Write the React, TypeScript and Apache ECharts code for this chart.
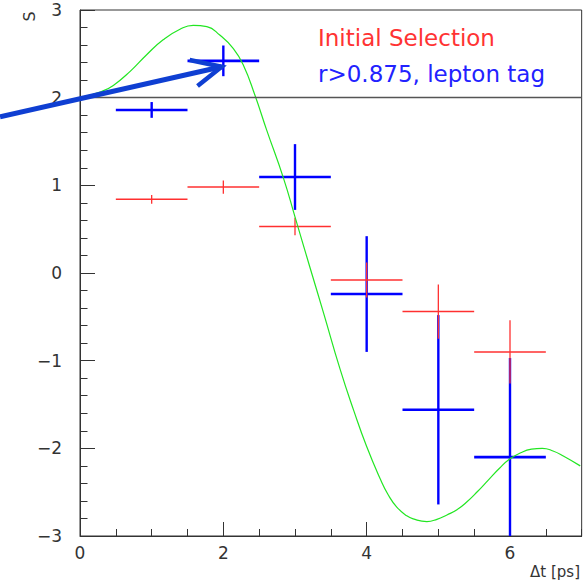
import React, { useEffect, useRef } from 'react';
import * as echarts from 'echarts';

// Bin centres (Δt in ps) and half widths
const BIN_T = [1, 2, 3, 4, 5, 6];
const BIN_HALF = [0.5, 0.5, 0.5, 0.5, 0.5, 0.5];

// "Initial Selection" (red)
const INITIAL_S = [0.84, 0.98, 0.53, -0.08, -0.44, -0.9];
const INITIAL_ERR = [0.05, 0.075, 0.1, 0.2, 0.31, 0.36];

// "r>0.875, lepton tag" (blue)
const LEPTON_S = [1.86, 2.42, 1.095, -0.24, -1.56, -2.1];
const LEPTON_ERR = [0.09, 0.175, 0.375, 0.66, 1.08, 1.13];

// Fitted curve (green)
const FIT_T = [0, 0.3, 0.465, 0.7, 0.93, 1.16, 1.395, 1.58, 1.77, 1.95, 2.14, 2.28, 2.44, 2.605, 2.84, 3.0, 3.21, 3.4, 3.63, 3.82, 4.0, 4.19, 4.3, 4.42, 4.56, 4.65, 4.84, 4.98, 5.12, 5.26, 5.4, 5.55, 5.7, 5.85, 6.0, 6.15, 6.3, 6.45, 6.6, 6.75, 6.98];
const FIT_S = [2.0, 2.07, 2.14, 2.3, 2.49, 2.66, 2.78, 2.825, 2.81, 2.715, 2.56, 2.37, 2.03, 1.63, 1.08, 0.64, 0.06, -0.46, -1.1, -1.57, -1.98, -2.35, -2.53, -2.67, -2.77, -2.805, -2.835, -2.81, -2.76, -2.7, -2.61, -2.49, -2.36, -2.23, -2.12, -2.05, -2.01, -2.0, -2.03, -2.09, -2.2];

// Axis ticks
const X_MIN = 0, X_MAX = 7, X_MAJOR = 2, X_MINOR = 0.5;
const Y_MIN = -3, Y_MAX = 3, Y_MAJOR = 1;
const REF_LINE_S = 2;

// Arrow annotation in data units: tail, tip, barb ends
const ARROW_TAIL = [-1.116, 1.783];
const ARROW_TIP = [1.977, 2.353];
const ARROW_BARB_UP = [1.53, 2.43];
const ARROW_BARB_DOWN = [1.64, 2.133];

const LEGEND_LABELS = ['Initial Selection', 'r>0.875, lepton tag'];

const FONT = 'DejaVu Sans';

function errData(t: number[], s: number[], ex: number[], ey: number[]) {
  return t.map((x, i) => [x, s[i], ex[i], ey[i]]);
}

function errorBarRender(color: string, hWidth: number, vWidth: number) {
  return (params: any, api: any) => {
    const x = api.value(0);
    const y = api.value(1);
    const ex = api.value(2);
    const ey = api.value(3);
    const l = api.coord([x - ex, y]);
    const r = api.coord([x + ex, y]);
    const t = api.coord([x, y + ey]);
    const b = api.coord([x, y - ey]);
    return {
      type: 'group',
      children: [
        { type: 'line', shape: { x1: l[0], y1: l[1], x2: r[0], y2: r[1] }, style: { stroke: color, lineWidth: hWidth } },
        { type: 'line', shape: { x1: t[0], y1: t[1], x2: b[0], y2: b[1] }, style: { stroke: color, lineWidth: vWidth } },
      ],
    };
  };
}

export default function App() {
  const ref = useRef<HTMLDivElement>(null);
  useEffect(() => {
    document.body.style.margin = '0';
    const chart = echarts.init(ref.current!, undefined, { renderer: 'svg' });
    const axisColor = '#333';
    const option: any = {
      animation: false,
      backgroundColor: '#fff',
      grid: { left: 80, right: 4.33, top: 10, bottom: 45, show: true, borderColor: axisColor, borderWidth: 1, backgroundColor: 'transparent' },
      xAxis: [
        {
          type: 'value', min: X_MIN, max: X_MAX, interval: X_MAJOR, position: 'bottom',
          axisLine: { show: true, onZero: false, lineStyle: { color: axisColor, width: 1 } },
          axisTick: { show: true, inside: true, length: 14, lineStyle: { color: axisColor } },
          axisLabel: { show: true, showMaxLabel: false, margin: 8, color: '#333', fontFamily: FONT, fontSize: 17 },
          splitLine: { show: false },
        },
        {
          type: 'value', min: X_MIN, max: X_MAX, interval: X_MINOR, position: 'bottom',
          axisLine: { show: false, onZero: false },
          axisTick: { show: true, inside: true, length: 7, lineStyle: { color: axisColor } },
          axisLabel: { show: false },
          splitLine: { show: false },
        },
      ],
      yAxis: [
        {
          type: 'value', min: Y_MIN, max: Y_MAX, interval: Y_MAJOR,
          axisLine: { show: true, onZero: false, lineStyle: { color: axisColor, width: 1 } },
          axisTick: { show: true, inside: true, length: 15, lineStyle: { color: axisColor } },
          minorTick: { show: true, splitNumber: 5, length: 7.5, lineStyle: { color: axisColor } },
          axisLabel: { margin: 18, color: '#333', fontFamily: FONT, fontSize: 17, formatter: (v: number) => String(v).replace('-', '\u2212') },
          splitLine: { show: false },
          minorSplitLine: { show: false },
        },
      ],
      series: [
        {
          type: 'custom', name: LEGEND_LABELS[1], clip: true, xAxisIndex: 0, yAxisIndex: 0,
          data: errData(BIN_T, LEPTON_S, BIN_HALF, LEPTON_ERR),
          encode: { x: 0, y: 1 },
          renderItem: errorBarRender('#0000ff', 2.6, 2.4),
          markLine: {
            silent: true, symbol: 'none', label: { show: false },
            lineStyle: { color: '#555', width: 1.3, type: 'solid' },
            data: [{ yAxis: REF_LINE_S }],
          },
        },
        {
          type: 'custom', name: LEGEND_LABELS[0], clip: true, xAxisIndex: 0, yAxisIndex: 0,
          data: errData(BIN_T, INITIAL_S, BIN_HALF, INITIAL_ERR),
          encode: { x: 0, y: 1 },
          renderItem: errorBarRender('#ff3030', 1.5, 1.3),
        },
        {
          type: 'line', xAxisIndex: 0, yAxisIndex: 0, showSymbol: false, symbol: 'none', smooth: 0.5,
          data: FIT_T.map((t, i) => [t, FIT_S[i]]),
          lineStyle: { color: '#22e622', width: 1.2 },
        },
      ],
    };
    chart.setOption(option);

    const px = (v: number[]) => chart.convertToPixel({ gridIndex: 0 }, v) as number[];
    const tail = px(ARROW_TAIL);
    const tip = px(ARROW_TIP);
    const up = px(ARROW_BARB_UP);
    const down = px(ARROW_BARB_DOWN);
    const arrowColor = '#0f3fd2';

    chart.setOption({
      graphic: [
        { type: 'line', shape: { x1: tail[0], y1: tail[1], x2: tip[0], y2: tip[1] }, style: { stroke: arrowColor, lineWidth: 5 }, z: 100 },
        { type: 'polyline', shape: { points: [up, tip, down] }, style: { stroke: arrowColor, lineWidth: 4.5, fill: 'none', lineJoin: 'miter' }, z: 100 },
        { type: 'text', x: 318, y: 38, style: { text: LEGEND_LABELS[0], fill: '#ff3333', fontFamily: FONT, fontSize: 23, verticalAlign: 'middle', align: 'left' }, z: 100 },
        { type: 'text', x: 318, y: 73.5, style: { text: LEGEND_LABELS[1], fill: '#2222ff', fontFamily: FONT, fontSize: 23, verticalAlign: 'middle', align: 'left' }, z: 100 },
        { type: 'text', x: 580, y: 572, style: { text: '\u0394t [ps]', fill: '#333', fontFamily: FONT, fontSize: 15, verticalAlign: 'middle', align: 'right' }, z: 100 },
        { type: 'text', x: 29, y: 16.5, rotation: Math.PI / 2, style: { text: 'S', fill: '#333', fontFamily: FONT, fontSize: 16, verticalAlign: 'middle', align: 'center' }, z: 100 },
      ],
    });

    return () => chart.dispose();
  }, []);
  return <div ref={ref} style={{ width: 586, height: 581 }} />;
}
